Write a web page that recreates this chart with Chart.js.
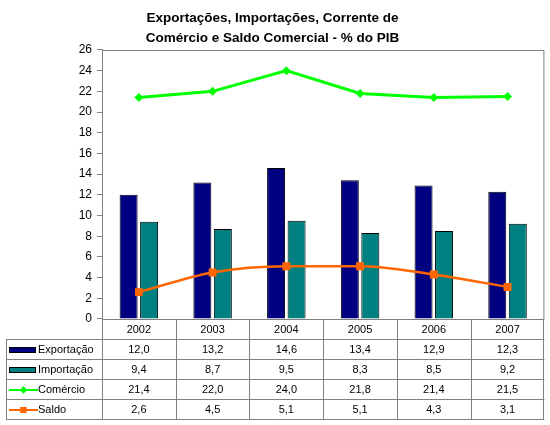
<!DOCTYPE html>
<html>
<head>
<meta charset="utf-8">
<script src="https://cdn.jsdelivr.net/npm/chart.js@4"></script>
<style>
  body { margin: 0; background: #fff; }
  #wrap { width: 550px; height: 425px; }
</style>
</head>
<body>
<div id="wrap"><canvas id="chart" width="550" height="425"></canvas></div>
<script>
const years = ['2002', '2003', '2004', '2005', '2006', '2007'];
const exportacao = [12.0, 13.2, 14.6, 13.4, 12.9, 12.3];
const importacao = [9.4, 8.7, 9.5, 8.3, 8.5, 9.2];
const comercio = [21.4, 22.0, 24.0, 21.8, 21.4, 21.5];
const saldo = [2.6, 4.5, 5.1, 5.1, 4.3, 3.1];

Chart.defaults.font.family = '"Liberation Sans", Arial, sans-serif';
Chart.defaults.font.size = 12;
Chart.defaults.color = '#000';

const fmt = v => v.toFixed(1).replace('.', ',');

// Excel-style data table under the plot, columns taken from the x scale
const dataTable = {
  id: 'dataTable',
  afterDraw(chart) {
    const { ctx, chartArea: a, scales: { x } } = chart;
    const colW = a.width / years.length;
    const rowH = 20;
    const left = 6;
    const headBottom = a.bottom + rowH;
    const bottom = headBottom + rowH * chart.data.datasets.length;

    ctx.save();
    ctx.strokeStyle = '#808080';
    ctx.lineWidth = 1;

    // frame of the plot area
    ctx.strokeRect(a.left + 0.5, a.top + 0.5, a.width - 1, a.height);

    ctx.beginPath();
    for (let r = 0; r <= chart.data.datasets.length; r++) {
      const y = headBottom + r * rowH + 0.5;
      ctx.moveTo(left, y);
      ctx.lineTo(a.right, y);
    }
    for (let c = 0; c <= years.length; c++) {
      const xx = Math.round(a.left + c * colW) + (c === years.length ? -0.5 : 0.5);
      ctx.moveTo(xx, a.bottom);
      ctx.lineTo(xx, bottom);
    }
    ctx.moveTo(left + 0.5, headBottom);
    ctx.lineTo(left + 0.5, bottom);
    ctx.stroke();

    ctx.fillStyle = '#000';
    ctx.textBaseline = 'middle';
    ctx.font = '11px "Liberation Sans", Arial, sans-serif';

    ctx.textAlign = 'center';
    years.forEach((yr, i) => {
      ctx.fillText(yr, x.getPixelForValue(i), a.bottom + rowH / 2 + 1);
    });

    chart.data.datasets.forEach((ds, r) => {
      const cy = headBottom + r * rowH + rowH / 2 + 1;
      // legend key
      if (ds.type === 'bar') {
        ctx.fillStyle = ds.backgroundColor;
        ctx.fillRect(9, cy - 3, 27, 6);
        ctx.strokeStyle = '#000';
        ctx.strokeRect(9.5, cy - 2.5, 26, 5);
      } else {
        ctx.strokeStyle = ds.borderColor;
        ctx.lineWidth = 2;
        ctx.beginPath();
        ctx.moveTo(9, cy);
        ctx.lineTo(38, cy);
        ctx.stroke();
        ctx.fillStyle = ds.borderColor;
        Chart.helpers.drawPoint(ctx, {
          pointStyle: ds.pointStyle,
          radius: ds.pointStyle === 'rect' ? 4.2 : 3.5,
          rotation: 0,
          borderWidth: 0
        }, 23.5, cy);
        ctx.fill();
      }
      ctx.fillStyle = '#000';
      ctx.textAlign = 'left';
      ctx.fillText(ds.label, 38, cy);
      ctx.textAlign = 'center';
      ds.data.forEach((v, i) => {
        ctx.fillText(fmt(v), x.getPixelForValue(i), cy);
      });
    });
    ctx.restore();
  }
};

new Chart(document.getElementById('chart'), {
  data: {
    labels: years,
    datasets: [
      {
        type: 'bar',
        label: 'Exportação',
        data: exportacao,
        backgroundColor: '#000080',
        borderColor: '#000',
        borderWidth: 1,
        categoryPercentage: 0.556,
        barPercentage: 0.878,
        order: 2
      },
      {
        type: 'bar',
        label: 'Importação',
        data: importacao,
        backgroundColor: '#008080',
        borderColor: '#000',
        borderWidth: 1,
        categoryPercentage: 0.556,
        barPercentage: 0.878,
        order: 2
      },
      {
        type: 'line',
        label: 'Comércio',
        data: comercio,
        borderColor: '#00FF00',
        backgroundColor: '#00FF00',
        borderWidth: 3,
        pointStyle: 'rectRot',
        pointRadius: 4.5,
        pointBorderWidth: 0,
        tension: 0,
        order: 1
      },
      {
        type: 'line',
        label: 'Saldo',
        data: saldo,
        borderColor: '#FF6600',
        backgroundColor: '#FF6600',
        borderWidth: 2.5,
        pointStyle: 'rect',
        pointRadius: 5.6,
        pointBorderWidth: 0,
        cubicInterpolationMode: 'monotone',
        order: 1
      }
    ]
  },
  options: {
    responsive: false,
    animation: false,
    layout: { padding: { left: 0, right: 5, bottom: 106, top: 0 } },
    plugins: {
      legend: { display: false },
      tooltip: { enabled: false },
      title: {
        display: true,
        text: ['Exportações, Importações, Corrente de', 'Comércio e Saldo Comercial - % do PIB'],
        font: { size: 13.5, weight: 'bold', lineHeight: 1.48 },
        color: '#000',
        padding: { top: 8, bottom: 2 }
      }
    },
    scales: {
      x: {
        display: false,
        offset: true
      },
      y: {
        min: 0,
        max: 26,
        ticks: { stepSize: 2, padding: 5, color: '#000', font: { size: 12 } },
        grid: { drawOnChartArea: false, tickLength: 5, color: '#808080' },
        border: { color: '#808080' },
        afterFit(scale) { scale.width = 102; }
      }
    }
  },
  plugins: [dataTable]
});
</script>
</body>
</html>
